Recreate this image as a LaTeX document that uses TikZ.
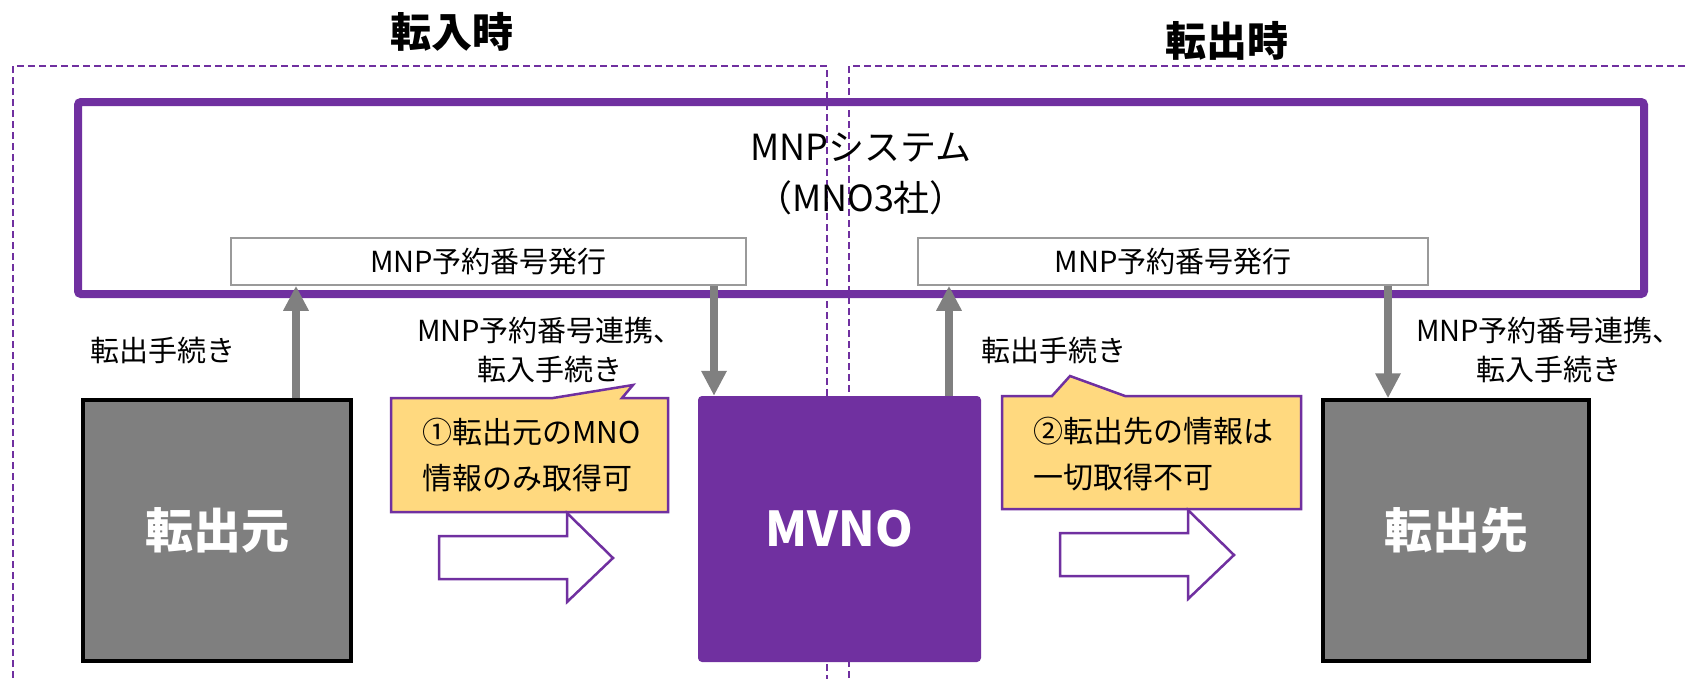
\documentclass[tikz,border=0pt]{standalone}
\usepackage{fontspec}
\setmainfont{Noto Sans CJK JP}
\usetikzlibrary{arrows.meta}
\definecolor{purp}{HTML}{7030A0}
\definecolor{boxgray}{HTML}{7F7F7F}
\definecolor{arrgray}{HTML}{808080}
\definecolor{calfill}{HTML}{FFD97F}
\definecolor{rsvline}{HTML}{9A9A9A}
\tikzset{
  dashbox/.style={draw=purp, line width=2pt, dash pattern=on 7pt off 4pt},
  sysbox/.style={draw=purp, line width=8pt, rounded corners=3pt, inner sep=0pt},
  rsvbox/.style={draw=rsvline, fill=white, line width=1.6pt, inner sep=0pt, font=\fontsize{29}{34}\selectfont},
  garrow/.style={draw=arrgray, line width=8pt, -{Triangle[width=24pt,length=25pt]}},
  endbox/.style={draw=black, fill=boxgray, line width=3.5pt, inner sep=0pt, text=white, font=\fontsize{48}{52}\selectfont\bfseries},
  mvnobox/.style={fill=purp, rounded corners=4pt, inner sep=0pt, text=white, font=\fontsize{48}{52}\selectfont\bfseries},
  lbl/.style={font=\fontsize{29}{39}\selectfont, inner sep=0pt},
  callst/.style={draw=purp, fill=calfill, line width=2.5pt, line join=miter},
  caltxt/.style={font=\fontsize{30}{46}\selectfont, inner sep=0pt, align=left, anchor=west},
  barrow/.style={draw=purp, fill=white, line width=2.5pt, line join=miter},
  ttl/.style={font=\fontsize{41}{46}\selectfont\bfseries, inner sep=0pt}
}
\begin{document}
\begin{tikzpicture}[x=1pt,y=-1pt]
\useasboundingbox (0,0) rectangle (1687,678);
\clip (0,0) rectangle (1687,678);
\fill[white] (0,0) rectangle (1687,678);

% titles
\node[ttl] (tin) at (452,32) {転入時};
\node[ttl] (tout) at (1227,41) {転出時};

% dashed frames
\coordinate (dA) at (13,700);
\coordinate (dB) at (13,66);
\coordinate (dC) at (827,66);
\coordinate (dD) at (827,700);
\coordinate (dE) at (849,700);
\coordinate (dF) at (849,66);
\coordinate (dG) at (1720,66);
\draw[dashbox] (dA) -- (dB) -- (dC) -- (dD);
\draw[dashbox] (dE) -- (dF) -- (dG);

% MNP system box
\node[sysbox, minimum width=1566pt, minimum height=192pt] (sys) at (861,198) {};
\node[font=\fontsize{36}{51}\selectfont, align=center, inner sep=0pt] (systxt) at (861,173.5) {MNPシステム\\（MNO3社）};

\node[rsvbox, minimum width=515pt, minimum height=47pt] (rsv1) at (488.5,261.5) {MNP予約番号発行};
\node[rsvbox, minimum width=510pt, minimum height=47pt] (rsv2) at (1173,261.5) {MNP予約番号発行};

% bottom boxes
\node[endbox, minimum width=268pt, minimum height=261pt] (moto) at (217,530.5) {転出元};
\node[mvnobox, minimum width=283pt, minimum height=266pt] (mvno) at (839.5,529) {MVNO};
\node[endbox, minimum width=266pt, minimum height=261pt] (saki) at (1456,530.5) {転出先};

% vertical arrows
\coordinate (xa) at (296,0);
\coordinate (xb) at (714,0);
\coordinate (xc) at (949,0);
\coordinate (xd) at (1388,0);
\draw[garrow] (moto.north -| xa) -- (rsv1.south -| xa);
\draw[garrow] (rsv1.south -| xb) -- (mvno.north -| xb);
\draw[garrow] (mvno.north -| xc) -- (rsv2.south -| xc);
\draw[garrow] (rsv2.south -| xd) -- (saki.north -| xd);

% labels
\node[lbl] (l1) at (163,350) {転出手続き};
\node[lbl, align=center] (l2) at (550,349.5) {MNP予約番号連携、\\転入手続き};
\node[lbl] (l3) at (1054,350) {転出手続き};
\node[lbl, align=center] (l4) at (1549,349.5) {MNP予約番号連携、\\転入手続き};

% callouts
\draw[callst] (391,398) -- (553,398) -- (633,385) -- (622,398) -- (668,398) -- (668,512) -- (391,512) -- cycle;
\node[caltxt] (c1) at (422,455) {①転出元のMNO\\情報のみ取得可};
\draw[callst] (1002,396) -- (1052,396) -- (1070,376) -- (1125,396) -- (1301,396) -- (1301,509) -- (1002,509) -- cycle;
\node[caltxt] (c2) at (1033,454.5) {②転出先の情報は\\一切取得不可};

% block arrows
\draw[barrow] (439,536) -- (567,536) -- (567,513) -- (613,558) -- (567,602) -- (567,579) -- (439,579) -- cycle;
\draw[barrow] (1060,533) -- (1188,533) -- (1188,510) -- (1234,555) -- (1188,599) -- (1188,576) -- (1060,576) -- cycle;
\end{tikzpicture}
\end{document}
